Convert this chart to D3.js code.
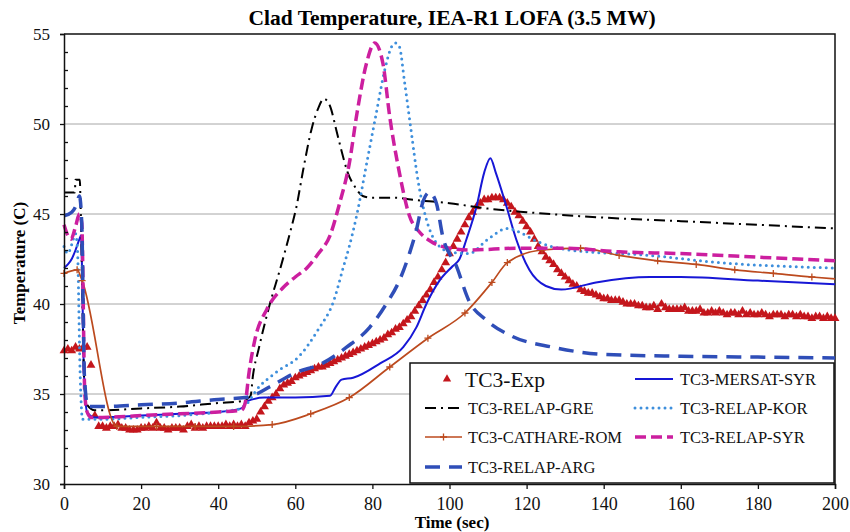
<!DOCTYPE html>
<html>
<head>
<meta charset="utf-8">
<script src="https://cdn.jsdelivr.net/npm/d3@7"></script>
<style>
  body { margin: 0; background: #fff; }
  text { font-family: "Liberation Serif", "Times New Roman", serif; }
</style>
</head>
<body>
<div id="chart"></div>
<script>
// TC3 experimental points (one per second)
const expT = d3.range(0, 201);
const expV = [
  37.4, 37.5, 37.4, 37.6, 37.5, 37.6, 37.6, 36.6, 33.8, 33.2,
  33.2, 33.1, 33.2, 33.2, 33.3, 33.1, 33.1, 33.0, 33.0, 33.0,
  33.1, 33.1, 33.2, 33.1, 33.4, 33.1, 33.1, 33.0, 33.1, 33.1,
  33.1, 33.0, 33.2, 33.3, 33.1, 33.2, 33.1, 33.2, 33.2, 33.2,
  33.2, 33.2, 33.3, 33.2, 33.3, 33.2, 33.3, 33.2, 33.4, 33.5,
  33.6, 34.0, 34.3, 34.6, 34.8, 35.0, 35.3, 35.5, 35.6, 35.7,
  35.9, 36.0, 36.1, 36.2, 36.3, 36.4, 36.5, 36.5, 36.6, 36.7,
  36.8, 36.9, 37.0, 37.1, 37.2, 37.3, 37.4, 37.5, 37.6, 37.7,
  37.8, 37.9, 38.0, 38.1, 38.3, 38.4, 38.6, 38.7, 38.9, 39.1,
  39.3, 39.6, 39.9, 40.2, 40.5, 40.8, 41.2, 41.5, 41.9, 42.3,
  42.8, 43.2, 43.6, 44.0, 44.4, 44.8, 45.1, 45.4, 45.6, 45.8,
  45.8, 45.9, 45.9, 45.9, 45.8, 45.6, 45.4, 45.1, 44.9, 44.6,
  44.3, 44.0, 43.6, 43.2, 42.9, 42.6, 42.4, 42.2, 41.9, 41.7,
  41.5, 41.3, 41.1, 41.0, 40.8, 40.7, 40.6, 40.6, 40.5, 40.4,
  40.3, 40.3, 40.2, 40.2, 40.2, 40.1, 40.0, 40.0, 40.0, 39.9,
  39.9, 39.8, 39.8, 39.9, 39.7, 40.0, 39.8, 39.7, 39.7, 39.7,
  39.7, 39.8, 39.6, 39.6, 39.6, 39.7, 39.5, 39.5, 39.6, 39.5,
  39.6, 39.5, 39.4, 39.5, 39.5, 39.4, 39.6, 39.4, 39.5, 39.4,
  39.4, 39.5, 39.4, 39.3, 39.4, 39.4, 39.4, 39.3, 39.4, 39.4,
  39.3, 39.4, 39.3, 39.3, 39.2, 39.3, 39.3, 39.2, 39.3, 39.2,
  39.2
];

const mersatT = [0, 1, 2, 3, 4, 4.4, 5.2, 6, 8, 10, 20, 30, 40, 46, 47.5, 52, 60, 69, 70.5, 72, 75, 82, 88, 91.4, 94, 97.4, 100.8, 102.6, 104.4, 107, 109, 110.6, 112, 114.8, 117.3, 120.7, 125, 129, 138, 152, 160, 180, 200];
const mersatV = [42.0, 42.2, 42.5, 43.0, 43.6, 43.8, 36.0, 34.0, 33.7, 33.7, 33.8, 33.9, 34.0, 34.2, 34.6, 34.8, 34.8, 34.9, 35.4, 35.8, 35.9, 36.7, 37.6, 38.7, 40.0, 41.3, 42.1, 42.5, 43.6, 45.4, 47.3, 48.1, 47.3, 45.4, 43.6, 41.9, 41.0, 40.8, 41.2, 41.5, 41.5, 41.3, 41.1];

const greT = [0, 2.8, 3.0, 4.1, 4.3, 5.3, 6.0, 8, 10, 20, 30, 40, 46, 48.4, 49, 50.5, 53.4, 56, 58.8, 60.3, 62, 64.2, 66, 67.4, 69, 70.6, 72, 73.6, 75.5, 77.5, 80, 86, 90, 100, 110, 120, 140, 160, 180, 200];
const greV = [46.2, 46.2, 46.9, 46.9, 45.5, 35.5, 34.4, 34.1, 34.1, 34.2, 34.3, 34.5, 34.6, 34.9, 36.0, 37.5, 40.0, 41.9, 44.1, 45.4, 47.4, 49.7, 50.9, 51.4, 51.0, 49.7, 48.5, 47.3, 46.5, 46.0, 45.9, 45.9, 45.8, 45.6, 45.3, 45.1, 44.8, 44.6, 44.4, 44.2];

const korT = [0, 1, 2, 3, 3.5, 4.2, 4.8, 6, 10, 20, 30, 40, 46, 48, 49.5, 55, 61, 66, 70, 72.4, 74, 76, 78.5, 81, 83.2, 85, 86, 87, 88.3, 90, 91.8, 94, 96.6, 100, 105, 110, 115, 118, 122.5, 131, 152, 170, 200];
const korV = [43.2, 42.8, 43.3, 43.9, 43.0, 36.0, 33.6, 33.6, 33.6, 33.7, 33.8, 34.0, 34.2, 34.6, 35.1, 36.2, 37.1, 38.6, 40.2, 42.0, 43.2, 45.0, 47.8, 50.6, 53.0, 54.3, 54.5, 54.3, 52.4, 49.7, 46.9, 44.7, 43.4, 42.9, 42.8, 43.6, 44.2, 44.0, 43.5, 43.0, 42.7, 42.3, 42.0];

const cathT = [0, 3.4, 4.7, 13.7, 24, 34, 44, 54, 64, 74, 84.5, 94.4, 104, 111, 115, 124, 134, 144, 154, 164, 174, 184, 194, 200];
const cathV = [41.7, 41.9, 41.3, 33.2, 33.2, 33.2, 33.2, 33.3, 33.9, 34.8, 36.5, 38.1, 39.5, 41.2, 42.3, 43.0, 43.1, 42.7, 42.4, 42.2, 41.9, 41.7, 41.5, 41.4];

const syrT = [0, 1, 1.8, 3, 4, 4.6, 5.4, 6, 7, 10, 20, 30, 40, 46, 47, 48, 49.5, 52.6, 56.8, 60, 63, 66, 69, 71.5, 74, 76, 78.5, 80.6, 82.7, 84.5, 87, 89.6, 92.2, 95, 98, 105, 118, 130, 144, 160, 180, 200];
const syrV = [44.4, 43.8, 43.6, 44.3, 45.0, 44.5, 35.0, 34.0, 33.7, 33.7, 33.8, 33.9, 34.0, 34.1, 34.5, 36.2, 38.0, 39.7, 40.9, 41.5, 42.0, 42.8, 43.8, 45.6, 47.8, 50.6, 53.4, 54.5, 53.4, 50.4, 47.3, 44.9, 44.0, 43.5, 43.2, 43.0, 43.1, 43.1, 42.9, 42.8, 42.6, 42.4];

const argT = [0, 2, 3.2, 4.0, 4.6, 5.3, 6.2, 10, 20, 30, 40, 47, 50, 53.4, 60.3, 67, 73.3, 79.3, 83.6, 87, 89.6, 91.4, 93, 94.8, 96.6, 98.2, 101.8, 105, 109.6, 116.3, 126.8, 140, 160, 180, 200];
const argV = [44.9, 45.1, 45.5, 46.0, 44.5, 36.0, 34.3, 34.3, 34.4, 34.5, 34.7, 34.8, 35.0, 35.4, 36.2, 36.7, 37.6, 38.7, 40.0, 41.3, 42.8, 44.1, 45.6, 46.2, 45.6, 43.8, 42.1, 40.2, 39.1, 38.2, 37.6, 37.2, 37.1, 37.05, 37.0];

const xTicks = [0, 20, 40, 60, 80, 100, 120, 140, 160, 180, 200];
const yTicks = [30, 35, 40, 45, 50, 55];

const margin = { top: 34, right: 15, bottom: 48, left: 64 };
let width = 850 - margin.left - margin.right;
let height = 532 - margin.top - margin.bottom;

let x = d3.scaleLinear().domain([0, 200]).range([0, width]);
let y = d3.scaleLinear().domain([30, 55]).range([height, 0]);

let root = d3.select("#chart")
  .append("svg")
  .attr("width", 850)
  .attr("height", 532);

let svg = root.append("g")
  .attr("transform", "translate(" + margin.left + "," + margin.top + ")");

// grid
svg.selectAll(".grid")
  .data(yTicks.filter(d => d > 30 && d < 55))
  .enter().append("line")
  .attr("x1", 0).attr("x2", width)
  .attr("y1", d => y(d)).attr("y2", d => y(d))
  .attr("stroke", "#a6a6a6").attr("stroke-width", 1);

// frame top / right
svg.append("path")
  .attr("d", `M0,${y(55)}H${x(200)}V${y(30)}`)
  .attr("fill", "none").attr("stroke", "#111").attr("stroke-width", 1.5);

const series = [
  { key: "TC3-MERSAT-SYR", t: mersatT, v: mersatV, color: "#1717d6", w: 2, dash: null },
  { key: "TC3-RELAP-GRE", t: greT, v: greV, color: "#000", w: 2, dash: "11,5,2,5" },
  { key: "TC3-RELAP-KOR", t: korT, v: korV, color: "#3e8fdc", w: 3, dash: "0,6", cap: "round" },
  { key: "TC3-CATHARE-ROM", t: cathT, v: cathV, color: "#bc4a1e", w: 1.7, dash: null, cross: true },
  { key: "TC3-RELAP-SYR", t: syrT, v: syrV, color: "#cc1f9f", w: 3.5, dash: "11,5" },
  { key: "TC3-RELAP-ARG", t: argT, v: argV, color: "#2f4eb8", w: 3.5, dash: "15,9" }
];

const line = d3.line()
  .x(d => x(d[0]))
  .y(d => y(d[1]))
  .curve(d3.curveMonotoneX);

const crossPath = "M-3.5,0H3.5M0,-3.5V3.5";

// experiment triangles
svg.selectAll(".exp")
  .data(d3.zip(expT, expV))
  .enter().append("path")
  .attr("transform", d => "translate(" + x(d[0]) + "," + y(d[1]) + ")")
  .attr("d", d3.symbol(d3.symbolTriangle, 34))
  .attr("fill", "#c4161c");

series.forEach(s => {
  let pts = d3.zip(s.t, s.v);
  svg.append("path")
    .datum(pts)
    .attr("fill", "none")
    .attr("stroke", s.color)
    .attr("stroke-width", s.w)
    .attr("stroke-dasharray", s.dash)
    .attr("stroke-linecap", s.cap || "butt")
    .attr("d", line);
  if (s.cross) {
    svg.selectAll(".cross")
      .data(pts.slice(0, -1))
      .enter().append("path")
      .attr("transform", d => "translate(" + x(d[0]) + "," + y(d[1]) + ")")
      .attr("d", crossPath)
      .attr("stroke", s.color)
      .attr("stroke-width", 1.3);
  }
});

// axes
let yAxis = svg.append("g")
  .call(d3.axisLeft(y).tickValues(yTicks).tickSize(4).tickPadding(10));
let yMinor = svg.append("g")
  .call(d3.axisLeft(y).tickValues(d3.range(30, 56).filter(d => d % 5)).tickSize(-4).tickFormat(""));
let xAxis = svg.append("g")
  .attr("transform", "translate(0," + height + ")")
  .call(d3.axisBottom(x).tickValues(xTicks).tickSize(5).tickPadding(8));

[yAxis, yMinor, xAxis].forEach(a => {
  a.select(".domain").attr("stroke", "#111").attr("stroke-width", 1.5);
  a.selectAll(".tick line").attr("stroke", "#111").attr("stroke-width", 1.3);
});
yMinor.select(".domain").remove();
yAxis.selectAll("text").style("font-size", "17px").attr("fill", "#111").attr("dy", "0.34em");
xAxis.selectAll("text").style("font-size", "18px").attr("fill", "#111");

// legend
let lg = svg.append("g").attr("transform", "translate(" + (410 - margin.left) + "," + (363 - margin.top) + ")");
lg.append("rect")
  .attr("width", 424).attr("height", 120)
  .attr("fill", "#fff").attr("stroke", "#111").attr("stroke-width", 1.5);

const legendRows = [16, 45, 74, 104];
const legendPos = [
  { key: "TC3-MERSAT-SYR", col: 1, row: 0 },
  { key: "TC3-RELAP-GRE", col: 0, row: 1 },
  { key: "TC3-RELAP-KOR", col: 1, row: 1 },
  { key: "TC3-CATHARE-ROM", col: 0, row: 2 },
  { key: "TC3-RELAP-SYR", col: 1, row: 2 },
  { key: "TC3-RELAP-ARG", col: 0, row: 3 }
];
const colX = [[15, 52, 58], [225, 263, 270]];

lg.append("path")
  .attr("transform", "translate(37," + legendRows[0] + ")")
  .attr("d", d3.symbol(d3.symbolTriangle, 30))
  .attr("fill", "#c4161c");
lg.append("text")
  .attr("x", 55).attr("y", legendRows[0] + 7.5)
  .style("font-size", "21.5px").attr("fill", "#111")
  .text("TC3-Exp");

legendPos.forEach(p => {
  let s = series.find(d => d.key === p.key);
  let cx = colX[p.col];
  let ry = legendRows[p.row];
  lg.append("line")
    .attr("x1", cx[0]).attr("x2", cx[1])
    .attr("y1", ry).attr("y2", ry)
    .attr("stroke", s.color)
    .attr("stroke-width", s.w)
    .attr("stroke-dasharray", s.dash)
    .attr("stroke-linecap", s.cap || "butt");
  if (s.cross) {
    lg.append("path")
      .attr("transform", "translate(" + (cx[0] + cx[1]) / 2 + "," + ry + ")")
      .attr("d", crossPath)
      .attr("stroke", s.color).attr("stroke-width", 1.3);
  }
  lg.append("text")
    .attr("x", cx[2]).attr("y", ry + 6)
    .style("font-size", "16.5px").attr("fill", "#111")
    .text(s.key);
});

// titles
root.append("text")
  .attr("x", 452).attr("y", 25)
  .attr("text-anchor", "middle")
  .style("font-size", "21.5px").style("font-weight", "bold")
  .text("Clad Temperature, IEA-R1 LOFA (3.5 MW)");

root.append("text")
  .attr("x", 452).attr("y", 528)
  .attr("text-anchor", "middle")
  .style("font-size", "17px").style("font-weight", "bold")
  .text("Time (sec)");

root.append("text")
  .attr("transform", "translate(25,263) rotate(-90)")
  .attr("text-anchor", "middle")
  .style("font-size", "17px").style("font-weight", "bold")
  .text("Temperature (C)");
</script>
</body>
</html>
